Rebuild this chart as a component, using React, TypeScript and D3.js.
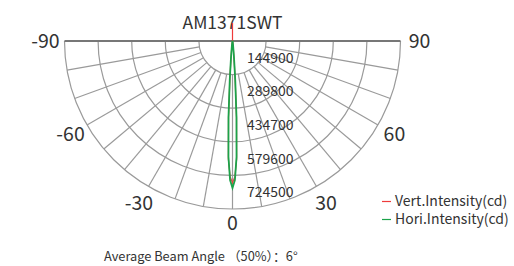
import * as d3 from "d3";

const title = "AM1371SWT";
const rTicks = [144900, 289800, 434700, 579600, 724500];
const angleLabels = [-90, -60, -30, 0, 30, 60, 90];
const spokeAngles = [-80, -70, -60, -50, -40, -30, -20, -10, 0, 10, 20, 30, 40, 50, 60, 70, 80];

// half-profile angles (deg) and intensities (cd), mirrored for negative side
const horiAngles = [0, 1, 2, 3, 4, 5, 6, 8, 10, 15, 20, 30, 45, 60, 75, 90];
const horiValues = [634000, 600000, 500000, 330000, 170000, 80000, 40000, 15000, 6000, 2500, 1200, 600, 300, 100, 0, 0];
const vertAngles = [0, 1, 2, 3, 4, 5, 6, 8, 10, 15, 20, 30, 45, 60, 75, 90, 120, 150, 170, 180];
const vertValues = [612000, 585000, 510000, 330000, 160000, 75000, 36000, 14000, 6000, 2400, 1100, 500, 250, 100, 0, 0, 0, 0, 0, 78000];

const legendItems = [
  { name: "Vert.Intensity(cd)", color: "#ee3b3b" },
  { name: "Hori.Intensity(cd)", color: "#1ba34a" },
];
const footer = "Average Beam Angle （50%）：6°";

const W = 514;
const H = 266;
const cx = 232.5;
const cy = 41;
const R = 168;
const font = "'Noto Sans CJK SC', 'Noto Sans', sans-serif";

const mirror = (angles: number[], values: number[]) => {
  const pts: [number, number][] = [];
  for (let i = angles.length - 1; i > 0; i--) pts.push([-angles[i], values[i]]);
  for (let i = 0; i < angles.length; i++) pts.push([angles[i], values[i]]);
  return pts;
};

export default function App() {
  const r = d3.scaleLinear().domain([0, 724500]).range([0, R]);
  const rad = (a: number) => (a * Math.PI) / 180;
  const px = (a: number, v: number) => cx + Math.sin(rad(a)) * r(v);
  const py = (a: number, v: number) => cy + Math.cos(rad(a)) * r(v);

  const line = d3
    .line<[number, number]>()
    .x((d) => px(d[0], d[1]))
    .y((d) => py(d[0], d[1]))
    .curve(d3.curveLinear);

  const hori = mirror(horiAngles, horiValues);
  const vert = mirror(vertAngles, vertValues);
  const step = r(rTicks[1]) - r(rTicks[0]);

  return (
    <svg width={W} height={H} style={{ position: "absolute", left: 0, top: 0, background: "#fff" }} fontFamily={font}>
      <text x={cx} y={28.5} textAnchor="middle" fontSize={17.5} fill="#333">{title}</text>

      <g fill="none" stroke="#9a9a9a" strokeWidth={1.2}>
        {rTicks.map((t) => {
          const rr = r(t);
          return <path key={t} d={`M${cx - rr},${cy} A${rr},${rr} 0 0 0 ${cx + rr},${cy}`} />;
        })}
        {spokeAngles.map((a) => (
          <line key={a} x1={px(a, rTicks[0])} y1={py(a, rTicks[0])} x2={px(a, 724500)} y2={py(a, 724500)} />
        ))}
      </g>
      <line x1={cx - R} y1={cy} x2={cx + R} y2={cy} stroke="#777" strokeWidth={2} />

      {rTicks.map((t) => (
        <text key={t} x={cx + 14.5} y={cy + r(t) - step / 2} dy="0.35em" fontSize={14} fill="#333">{t}</text>
      ))}

      {angleLabels.map((a) => {
        const lr = R + 19 - (a === 0 ? 5 : 0);
        return (
          <text key={a} x={cx + Math.sin(rad(a)) * lr} y={cy + Math.cos(rad(a)) * lr} dy="0.35em"
            textAnchor="middle" fontSize={19.5} fill="#333">{a}</text>
        );
      })}

      <path d={line(vert) ?? ""} fill="none" stroke={legendItems[0].color} strokeWidth={1.2} />
      <path d={line(hori) ?? ""} fill="none" stroke={legendItems[1].color} strokeWidth={1.8} />

      {legendItems.map((item, i) => (
        <g key={item.name} transform={`translate(382,${201.5 + i * 18})`}>
          <line x1={0} x2={9} y1={0} y2={0} stroke={item.color} strokeWidth={1.2} />
          <text x={13} y={0} dy="0.35em" fontSize={14} fill="#333">{item.name}</text>
        </g>
      ))}

      <text x={104} y={256.5} dy="0.35em" fontSize={12.8} fill="#333">{footer}</text>
    </svg>
  );
}
